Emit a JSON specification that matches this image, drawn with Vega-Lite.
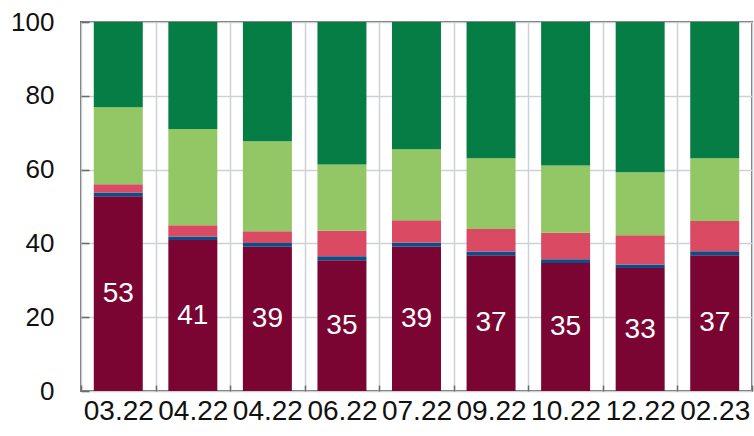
{
  "$schema": "https://vega.github.io/schema/vega-lite/v6.json",
  "width": 671,
  "height": 369,
  "autosize": "none",
  "padding": {"left": 81, "top": 22, "right": 2, "bottom": 45},
  "background": "white",
  "config": {
    "view": {"stroke": "#6b6b6b", "strokeWidth": 2},
    "font": "Liberation Sans"
  },
  "datasets": {
    "bars": [
      {"i": 0, "s": "S1", "k": 1, "v": 52.8}, {"i": 0, "s": "S2", "k": 2, "v": 1.0}, {"i": 0, "s": "S3", "k": 3, "v": 2.2}, {"i": 0, "s": "S4", "k": 4, "v": 20.9}, {"i": 0, "s": "S5", "k": 5, "v": 23.1},
      {"i": 1, "s": "S1", "k": 1, "v": 40.9}, {"i": 1, "s": "S2", "k": 2, "v": 1.0}, {"i": 1, "s": "S3", "k": 3, "v": 3.0}, {"i": 1, "s": "S4", "k": 4, "v": 26.1}, {"i": 1, "s": "S5", "k": 5, "v": 29.0},
      {"i": 2, "s": "S1", "k": 1, "v": 39.1}, {"i": 2, "s": "S2", "k": 2, "v": 1.0}, {"i": 2, "s": "S3", "k": 3, "v": 3.2}, {"i": 2, "s": "S4", "k": 4, "v": 24.4}, {"i": 2, "s": "S5", "k": 5, "v": 32.3},
      {"i": 3, "s": "S1", "k": 1, "v": 35.4}, {"i": 3, "s": "S2", "k": 2, "v": 1.1}, {"i": 3, "s": "S3", "k": 3, "v": 6.9}, {"i": 3, "s": "S4", "k": 4, "v": 18.0}, {"i": 3, "s": "S5", "k": 5, "v": 38.6},
      {"i": 4, "s": "S1", "k": 1, "v": 39.1}, {"i": 4, "s": "S2", "k": 2, "v": 1.1}, {"i": 4, "s": "S3", "k": 3, "v": 6.1}, {"i": 4, "s": "S4", "k": 4, "v": 19.2}, {"i": 4, "s": "S5", "k": 5, "v": 34.5},
      {"i": 5, "s": "S1", "k": 1, "v": 36.8}, {"i": 5, "s": "S2", "k": 2, "v": 1.0}, {"i": 5, "s": "S3", "k": 3, "v": 6.1}, {"i": 5, "s": "S4", "k": 4, "v": 19.2}, {"i": 5, "s": "S5", "k": 5, "v": 36.9},
      {"i": 6, "s": "S1", "k": 1, "v": 34.7}, {"i": 6, "s": "S2", "k": 2, "v": 1.0}, {"i": 6, "s": "S3", "k": 3, "v": 7.2}, {"i": 6, "s": "S4", "k": 4, "v": 18.2}, {"i": 6, "s": "S5", "k": 5, "v": 38.9},
      {"i": 7, "s": "S1", "k": 1, "v": 33.3}, {"i": 7, "s": "S2", "k": 2, "v": 1.0}, {"i": 7, "s": "S3", "k": 3, "v": 7.9}, {"i": 7, "s": "S4", "k": 4, "v": 17.1}, {"i": 7, "s": "S5", "k": 5, "v": 40.7},
      {"i": 8, "s": "S1", "k": 1, "v": 36.8}, {"i": 8, "s": "S2", "k": 2, "v": 1.1}, {"i": 8, "s": "S3", "k": 3, "v": 8.2}, {"i": 8, "s": "S4", "k": 4, "v": 17.0}, {"i": 8, "s": "S5", "k": 5, "v": 36.9}
    ]
  },
  "data": {"name": "bars"},
  "layer": [
    {
      "mark": {"type": "bar", "width": {"band": 0.657}},
      "encoding": {
        "x": {
          "field": "i",
          "type": "ordinal",
          "scale": {"paddingInner": 0, "paddingOuter": 0},
          "axis": {
            "title": null,
            "labelExpr": "['03.22','04.22','04.22','06.22','07.22','09.22','10.22','12.22','02.23'][datum.value]",
            "labelAngle": 0,
            "labelOverlap": false,
            "labelFont": "Liberation Sans",
            "labelFontSize": 28,
            "labelColor": "#111111",
            "labelPadding": 6,
            "tickBand": "extent",
            "bandPosition": 0,
            "ticks": true,
            "tickSize": 6,
            "offset": -6,
            "tickColor": "#6b6b6b",
            "tickWidth": 1.5,
            "domain": false,
            "grid": true,
            "gridColor": "#cdd1d6",
            "gridWidth": 1.5
          }
        },
        "y": {
          "field": "v",
          "type": "quantitative",
          "stack": "zero",
          "scale": {"domain": [0, 100], "nice": false},
          "axis": {
            "title": null,
            "values": [0, 20, 40, 60, 80, 100],
            "labelFont": "Liberation Sans",
            "labelFontSize": 26,
            "labelColor": "#111111",
            "labelPadding": 27,
            "ticks": true,
            "tickSize": 8,
            "offset": -8,
            "tickColor": "#6b6b6b",
            "tickWidth": 1.5,
            "domain": false,
            "grid": true,
            "gridColor": "#cdd1d6",
            "gridWidth": 1.5
          }
        },
        "color": {
          "field": "s",
          "type": "nominal",
          "scale": {"domain": ["S1", "S2", "S3", "S4", "S5"], "range": ["#7a0532", "#0b4f8a", "#db4a63", "#93c664", "#067d45"]},
          "legend": null
        },
        "order": {"field": "k", "type": "quantitative"}
      }
    },
    {
      "transform": [{"filter": "datum.s === 'S1'"}],
      "mark": {"type": "text", "color": "white", "font": "Liberation Sans", "fontSize": 28, "baseline": "middle", "align": "center"},
      "encoding": {
        "x": {"field": "i", "type": "ordinal"},
        "y": {
          "field": "v",
          "type": "quantitative",
          "scale": {"domain": [0, 200], "nice": false},
          "axis": null
        },
        "text": {"field": "v", "type": "quantitative", "format": ".0f"}
      }
    }
  ],
  "resolve": {"scale": {"y": "independent"}}
}
